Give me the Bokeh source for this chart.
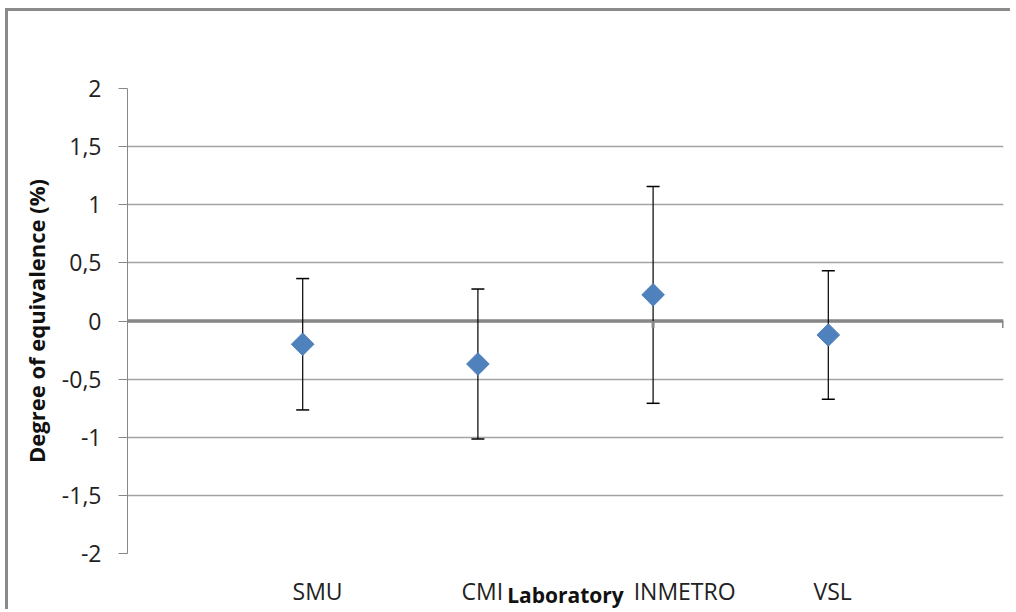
from bokeh.plotting import figure
from bokeh.models import (Range1d, FixedTicker, ColumnDataSource, Whisker, TeeHead,
                          Span, LinearAxis)
from bokeh.embed import file_html
from bokeh.resources import INLINE

# ---- data ----
labs = ["SMU", "CMI", "INMETRO", "VSL"]
lab_pos = [1, 2, 3, 4]
doe = [-0.20, -0.37, 0.225, -0.12]          # degree of equivalence (%)
unc = [0.565, 0.645, 0.933, 0.553]          # expanded uncertainty (%)
y_ticks = [-2, -1.5, -1, -0.5, 0, 0.5, 1, 1.5, 2]
y_tick_labels = ["-2", "-1,5", "-1", "-0,5", "0", "0,5", "1", "1,5", "2"]
zero_axis_ticks = [3, 5]

# ---- styles ----
label_shift = [0.085, 0.025, 0.18, 0.025]   # category labels sit a little right, as in the original
FONT = "Open Sans"
GRID = "#a3a3a3"
AXIS = "#878787"
BLUE = "#4F81BD"

src = ColumnDataSource(dict(
    x=lab_pos, y=doe,
    lo=[d - u for d, u in zip(doe, unc)],
    hi=[d + u for d, u in zip(doe, unc)],
))

p = figure(width=1005, height=601, output_backend="svg", toolbar_location=None,
           x_range=Range1d(0, 5), y_range=Range1d(-2, 2),
           x_axis_location=None,
           min_border_left=119, min_border_top=77, min_border_right=10,
           min_border_bottom=59)
p.styles = {"border-left": "3px solid #8a8a8a", "border-top": "3px solid #8a8a8a",
            "margin-left": "5px", "margin-top": "8px"}
p.outline_line_color = None
p.background_fill_color = "white"
p.border_fill_color = "white"

# y axis
ax = p.yaxis[0]
ax.ticker = FixedTicker(ticks=y_ticks)
ax.major_label_overrides = {t: s for t, s in zip(y_ticks, y_tick_labels)}
ax.minor_tick_line_color = None
ax.major_tick_in = 0
ax.major_tick_out = 9
ax.major_tick_line_color = AXIS
ax.axis_line_color = AXIS
ax.major_label_standoff = 17
ax.major_label_text_font = FONT
ax.major_label_text_font_size = "23px"
ax.major_label_text_color = "#222222"
ax.axis_label = "Degree of equivalence (%)"
ax.axis_label_text_font = FONT
ax.axis_label_text_font_size = "22px"
ax.axis_label_text_font_style = "bold"
ax.axis_label_text_color = "#111111"
ax.axis_label_standoff = 8

# x axis: category names as tick labels
tick_pos = [x + d for x, d in zip(lab_pos, label_shift)]
xax = LinearAxis(ticker=FixedTicker(ticks=tick_pos),
                 major_label_overrides={t: s for t, s in zip(tick_pos, labs)},
                 axis_line_color=None, major_tick_line_color=None,
                 minor_tick_line_color=None, major_tick_in=0, major_tick_out=0,
                 major_label_standoff=21,
                 major_label_text_font=FONT, major_label_text_font_size="23px",
                 major_label_text_color="#222222",
                 axis_label="Laboratory", axis_label_standoff=-29,
                 axis_label_text_font=FONT, axis_label_text_font_size="21px",
                 axis_label_text_font_style="bold", axis_label_text_color="#111111")
p.add_layout(xax, "below")

p.xgrid.visible = False
p.ygrid.ticker = FixedTicker(ticks=y_ticks)
p.ygrid.grid_line_color = GRID
p.ygrid.grid_line_width = 1.3

# zero line (horizontal axis)
p.add_layout(Span(location=0, dimension="width", line_color=AXIS, line_width=3.5,
                  level="underlay"))
p.segment(x0=zero_axis_ticks, x1=zero_axis_ticks, y0=[0] * len(zero_axis_ticks),
          y1=[-0.06] * len(zero_axis_ticks), line_color=AXIS, line_width=3)

# error bars
p.add_layout(Whisker(source=src, base="x", lower="lo", upper="hi",
                     line_color="black", line_width=1.2,
                     lower_head=TeeHead(size=13, line_color="black", line_width=1.5),
                     upper_head=TeeHead(size=13, line_color="black", line_width=1.5)))

# points (diamonds)
p.scatter("x", "y", source=src, marker="square", angle=0.785398, size=16,
          fill_color=BLUE, line_color=BLUE)

open("out.html", "w").write(file_html(p, INLINE))
